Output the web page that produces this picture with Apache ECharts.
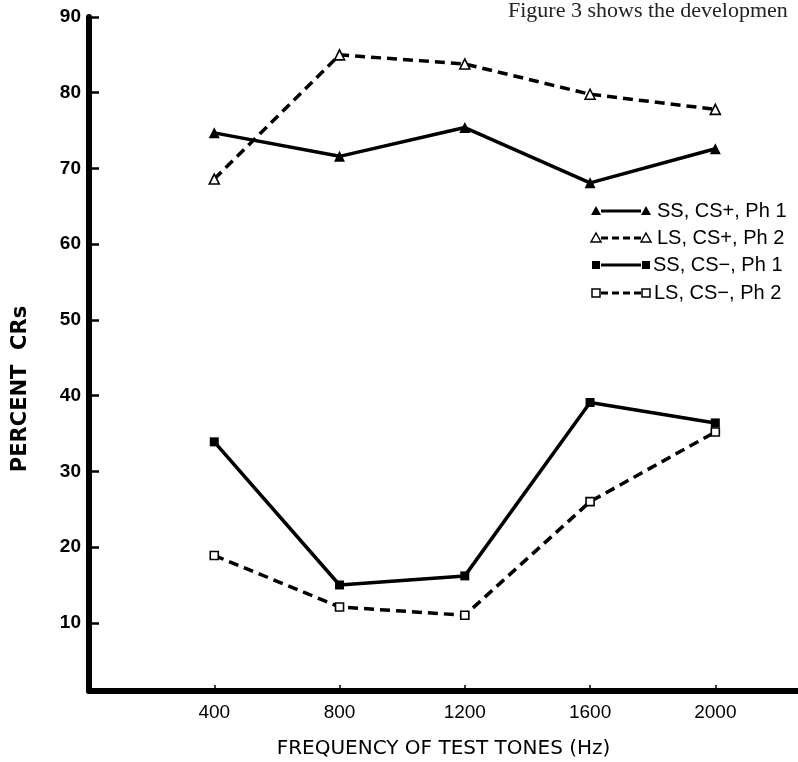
<!DOCTYPE html>
<html>
<head>
<meta charset="utf-8">
<script src="https://cdn.jsdelivr.net/npm/echarts@6/dist/echarts.min.js"></script>
<style>
  html, body { margin: 0; padding: 0; background: #fff; }
  #chart { width: 798px; height: 762px; }
</style>
</head>
<body>
<div id="chart"></div>
<script>
// frequencies of the test tones (Hz)
const freqs = [400, 800, 1200, 1600, 2000];

// percent CRs
const ssCsPlusPh1 = [74.7, 71.6, 75.4, 68.1, 72.6];
const lsCsPlusPh2 = [68.6, 85.0, 83.8, 79.8, 77.8];
const ssCsMinusPh1 = [33.9, 15.0, 16.2, 39.1, 36.4];
const lsCsMinusPh2 = [18.9, 12.1, 11.0, 26.0, 35.2];

const yTicks = [10, 20, 30, 40, 50, 60, 70, 80, 90];
const xTicks = [400, 800, 1200, 1600, 2000];

const legendNames = ['SS, CS+, Ph 1', 'LS, CS+, Ph 2', 'SS, CS\u2212, Ph 1', 'LS, CS\u2212, Ph 2'];

const pairs = (vals) => freqs.map((f, i) => [f, vals[i]]);

const chart = echarts.init(document.getElementById('chart'), null, { renderer: 'canvas' });

const solid = { color: '#000', width: 3.5, type: 'solid' };
const dashed = { color: '#000', width: 3.5, type: [10, 6] };
const filled = { color: '#000' };
const open = { color: '#fff', borderColor: '#000', borderWidth: 1.6 };

function makeSeries(name, vals, symbol, size, line, item) {
  return {
    name: name,
    type: 'line',
    data: pairs(vals),
    symbol: symbol,
    symbolSize: size,
    showAllSymbol: true,
    lineStyle: line,
    itemStyle: item,
    emphasis: { disabled: true },
    z: item.color === '#fff' ? 3 : 2,
  };
}

// hand-drawn legend: marker --- marker  label
function legendRow(y, symbol, dashedLine, isOpen, label, textX) {
  const els = [];
  const x1 = 596, x2 = 646;
  els.push({ type: 'line', shape: { x1: x1 + 5, y1: y, x2: x2 - 5, y2: y },
    style: dashedLine ? { stroke: '#000', lineWidth: 3, lineDash: [7, 4] } : { stroke: '#000', lineWidth: 3 } });
  [x1, x2].forEach((cx) => {
    const st = isOpen ? { fill: '#fff', stroke: '#000', lineWidth: 1.5 } : { fill: '#000' };
    if (symbol === 'triangle') {
      els.push({ type: 'polygon', shape: { points: [[cx, y - 5], [cx + 5, y + 4], [cx - 5, y + 4]] }, style: st, z: 10 });
    } else {
      els.push({ type: 'rect', shape: { x: cx - 4, y: y - 4, width: 8, height: 8 }, style: st, z: 10 });
    }
  });
  els.push({ type: 'text', x: textX, y: y, style: { text: label, fill: '#000',
    font: '20px "Liberation Sans", Arial, sans-serif', verticalAlign: 'middle' } });
  return els;
}

const option = {
  backgroundColor: '#fff',
  animation: false,
  grid: { left: 89, right: 0, top: 17, bottom: 71, containLabel: false, outerBoundsMode: 'none' },
  xAxis: {
    type: 'value',
    min: 0,
    max: 2264,
    name: 'FREQUENCY OF TEST TONES (Hz)',
    nameLocation: 'middle',
    nameGap: 48,
    nameTextStyle: { fontFamily: '"DejaVu Sans", sans-serif', fontSize: 20, color: '#000' },
    axisLine: { show: true, lineStyle: { color: '#000', width: 6 } },
    axisTick: { show: true, inside: true, length: 6, customValues: xTicks, lineStyle: { color: '#000', width: 1.5 } },
    axisLabel: { customValues: xTicks, color: '#000', fontSize: 19, margin: 12,
      formatter: (v) => String(v),
      fontFamily: '"Liberation Sans", Arial, sans-serif' },
    splitLine: { show: false },
  },
  yAxis: {
    type: 'value',
    min: 1,
    max: 90,
    axisLine: { show: true, lineStyle: { color: '#000', width: 6 } },
    axisTick: { show: true, inside: true, length: 10, customValues: yTicks, lineStyle: { color: '#000', width: 2.5 } },
    axisLabel: { customValues: yTicks, color: '#000', fontSize: 19, fontWeight: 'bold', margin: 8,
      fontFamily: '"Liberation Sans", Arial, sans-serif' },
    splitLine: { show: false },
  },
  series: [
    makeSeries(legendNames[0], ssCsPlusPh1, 'triangle', 11, solid, filled),
    makeSeries(legendNames[1], lsCsPlusPh2, 'triangle', 10, dashed, open),
    makeSeries(legendNames[2], ssCsMinusPh1, 'rect', 9, solid, filled),
    makeSeries(legendNames[3], lsCsMinusPh2, 'rect', 8, dashed, open),
  ],
  graphic: [
    { type: 'text', left: 508, top: 0, style: { text: 'Figure 3 shows the developmen', fill: '#222',
      font: '22px "Liberation Serif", "DejaVu Serif", serif' } },
    { type: 'text', x: 21, y: 389, rotation: Math.PI / 2, style: { text: 'PERCENT  CRs', fill: '#000',
      font: 'bold 21px "DejaVu Sans", sans-serif', align: 'center', verticalAlign: 'middle' } },
    { type: 'group', children: [].concat(
      legendRow(211, 'triangle', false, false, legendNames[0], 657),
      legendRow(238, 'triangle', true, true, legendNames[1], 657),
      legendRow(265, 'rect', false, false, legendNames[2], 653),
      legendRow(293, 'rect', true, true, legendNames[3], 654)
    ) },
  ],
};

chart.setOption(option);
</script>
</body>
</html>
